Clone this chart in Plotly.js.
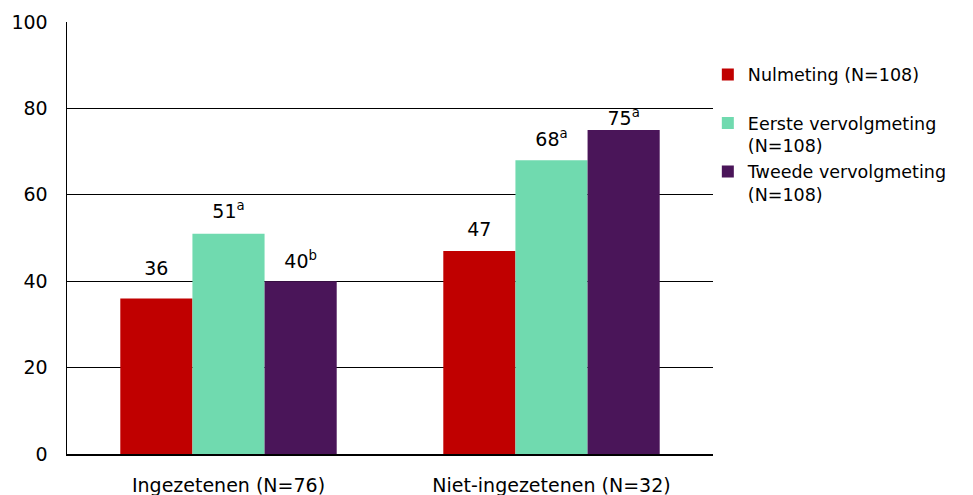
<!DOCTYPE html>
<html>
<head>
<meta charset="utf-8">
<script src="https://cdn.plot.ly/plotly-3.0.1.min.js"></script>
<style>html,body{margin:0;padding:0;background:#fff;}#chart{width:973px;height:495px;}</style>
</head>
<body>
<div id="chart"></div>
<script>
var categories = ["Ingezetenen (N=76)", "Niet-ingezetenen (N=32)"];
var seriesNames = ["Nulmeting (N=108)<br> ", "Eerste vervolgmeting<br>(N=108)", "Tweede vervolgmeting<br>(N=108)"];
var nulmeting = [36, 47];
var eerste = [51, 68];
var tweede = [40, 75];
var nulLabels = ["36", "47"];
var eersteLabels = ["51<sup>a</sup>", "68<sup>a</sup>"];
var tweedeLabels = ["40<sup>b</sup>", "75<sup>a</sup>"];
var colors = ["#C00000", "#70DAAF", "#4A1559"];

var font = "DejaVu Sans, Verdana, sans-serif";
var values = [nulmeting, eerste, tweede];
var labels = [nulLabels, eersteLabels, tweedeLabels];
// label lift (invisible marker size) per label, style only
var lift = [[28, 14], [16, 14], [12, 0]];

var data = [];
for (var i = 0; i < 3; i++) {
  data.push({
    type: "bar", name: seriesNames[i], x: categories, y: values[i],
    offsetgroup: "g" + i,
    marker: {color: colors[i], line: {width: 0}},
    hoverinfo: "skip"
  });
}
for (var j = 0; j < 3; j++) {
  data.push({
    type: "scatter", mode: "markers+text", x: categories, y: values[j],
    offsetgroup: "g" + j, showlegend: false,
    text: labels[j], textposition: "top center", cliponaxis: false,
    textfont: {family: font, size: 19, color: "#000"},
    marker: {size: lift[j], opacity: 0},
    hoverinfo: "skip"
  });
}
var layout = {
  width: 973, height: 495,
  margin: {l: 67, r: 260, t: 22, b: 41},
  paper_bgcolor: "#fff", plot_bgcolor: "#fff",
  barmode: "group", bargap: 0.33, bargroupgap: 0,
  scattermode: "group", scattergap: 0.33,
  font: {family: font, size: 19, color: "#000"},
  xaxis: {
    showline: true, linecolor: "#000", linewidth: 1.5,
    showgrid: false, ticks: "", ticklabelstandoff: 14,
    tickfont: {family: font, size: 19, color: "#000"}
  },
  yaxis: {
    range: [0, 100], dtick: 20, showline: true, linecolor: "#000", linewidth: 1.5,
    showgrid: true, gridcolor: "#000", gridwidth: 1.2, zeroline: false,
    ticks: "", ticklabelstandoff: 14,
    tickfont: {family: font, size: 19, color: "#000"}
  },
  legend: {
    x: 0.992, y: 0.92, xanchor: "left", yanchor: "top", valign: "top",
    font: {family: font, size: 17.5, color: "#000"},
    itemwidth: 30, tracegroupgap: 0, bgcolor: "rgba(0,0,0,0)"
  },
  showlegend: true
};
Plotly.newPlot("chart", data, layout, {displayModeBar: false, staticPlot: true});
</script>
</body>
</html>
